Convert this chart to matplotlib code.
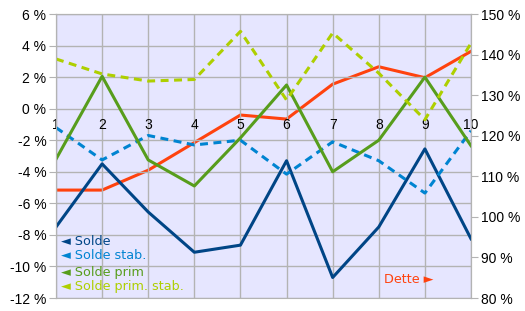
import matplotlib.pyplot as plt
from matplotlib.ticker import FuncFormatter

# Data
years = [1, 2, 3, 4, 5, 6, 7, 8, 9, 10]
solde = [-7.5, -3.5, -6.55, -9.1, -8.65, -3.3, -10.7, -7.5, -2.55, -8.25]
solde_stab = [-1.2, -3.25, -1.7, -2.3, -2.0, -4.15, -2.1, -3.3, -5.35, -1.4]
solde_prim = [-3.2, 2.05, -3.25, -4.9, -1.85, 1.5, -4.0, -2.0, 2.0, -2.35]
solde_prim_stab = [3.15, 2.2, 1.75, 1.85, 4.9, 0.55, 4.8, 2.25, -0.7, 4.15]
dette = [106.6, 106.6, 111.5, 118.3, 125.1, 124.1, 132.7, 137.0, 134.3, 140.8]

c_solde = "#004586"
c_stab = "#0084d1"
c_prim = "#579d1c"
c_prim_stab = "#aecf00"
c_dette = "#ff420e"
grid_c = "#b3b3b3"


def main():
    plt.rcParams['font.family'] = ['DejaVu Sans']
    fig = plt.figure(figsize=(5.25, 3.11), dpi=100)
    ax = fig.add_axes([56 / 525, 1 - 298 / 311, (471 - 56) / 525, (298 - 14) / 311])

    ax2 = ax.twinx()
    ax.set_zorder(ax2.get_zorder() + 1)
    ax.patch.set_visible(False)
    ax2.patch.set_visible(True)
    ax2.patch.set_facecolor("#e6e6ff")

    lw = 2.2
    ax.plot(years, solde, color=c_solde, lw=lw)
    ax.plot(years, solde_stab, color=c_stab, lw=lw, dashes=(2.6, 1.8))
    ax.plot(years, solde_prim, color=c_prim, lw=lw)
    ax.plot(years, solde_prim_stab, color=c_prim_stab, lw=lw, dashes=(2.6, 1.8))
    ax2.plot(years, dette, color=c_dette, lw=lw)

    ax.set_xlim(1, 10)
    ax.set_ylim(-12, 6)
    ax2.set_ylim(80, 150)
    ax.set_yticks(range(-12, 7, 2))
    ax2.set_yticks(range(80, 151, 10))
    ax.yaxis.set_major_formatter(FuncFormatter(lambda v, p: f"{v:.0f} %"))
    ax2.yaxis.set_major_formatter(FuncFormatter(lambda v, p: f"{v:.0f} %"))
    ax.set_xticks(years)

    # x axis crosses at 0 %
    ax.spines['bottom'].set_position(('data', 0))
    ax.spines['bottom'].set_visible(False)
    ax.tick_params(axis='x', length=0, pad=7)
    ax.tick_params(axis='y', length=5, color=grid_c, pad=2)
    ax2.tick_params(axis='y', length=5, color=grid_c, pad=2)
    for lab in ax.get_xticklabels() + ax.get_yticklabels() + ax2.get_yticklabels():
        lab.set_fontfamily('Liberation Sans')
        lab.set_fontsize(10)

    ax.grid(True, color=grid_c, lw=1)
    ax.set_axisbelow(True)
    for a in (ax, ax2):
        for s in ('top', 'left', 'right', 'bottom'):
            a.spines[s].set_color(grid_c)

    # Legend as coloured text
    fs = 9.2
    ax.text(1.1, -8.45, "◄ Solde", color=c_solde, fontsize=fs, va='center')
    ax.text(1.1, -9.3, "◄ Solde stab.", color=c_stab, fontsize=fs, va='center')
    ax.text(1.1, -10.4, "◄ Solde prim", color=c_prim, fontsize=fs, va='center')
    ax.text(1.1, -11.3, "◄ Solde prim. stab.", color=c_prim_stab, fontsize=fs, va='center')
    ax.text(9.18, -10.8, "Dette ►", color=c_dette, fontsize=fs, va='center', ha='right')

    fig.savefig("out.png", dpi=100)


if __name__ == "__main__":
    main()
